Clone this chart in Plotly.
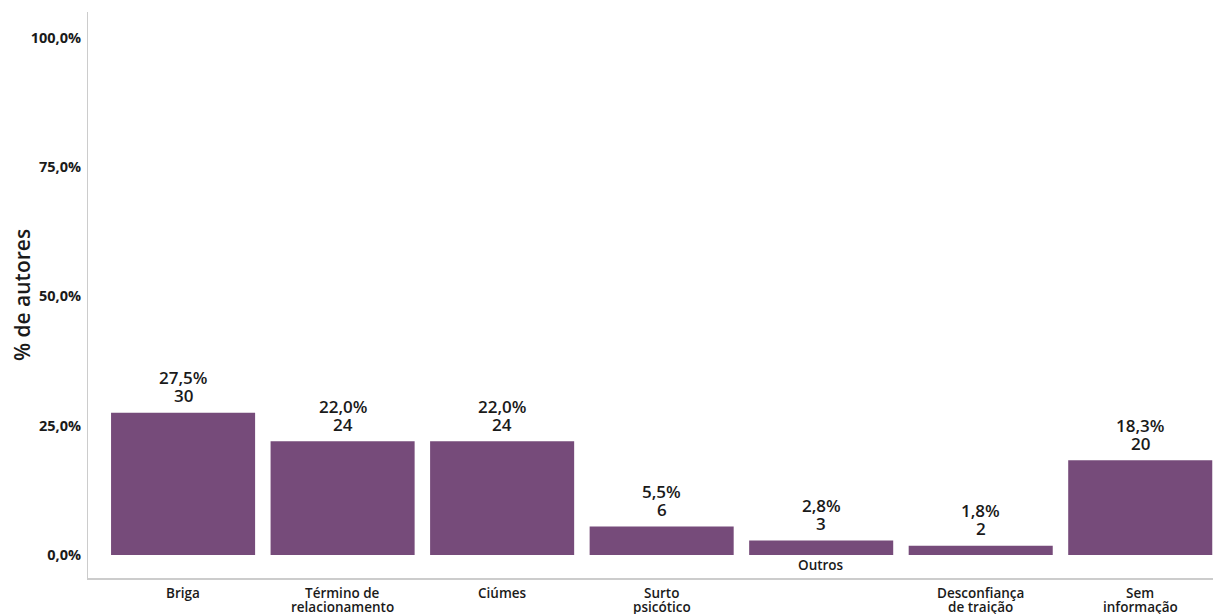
import plotly.graph_objects as go

categories = ["Briga", "Término de<br>relacionamento", "Ciúmes", "Surto<br>psicótico",
              "Outros", "Desconfiança<br>de traição", "Sem<br>informação"]
percentages = [27.5, 22.0, 22.0, 5.5, 2.8, 1.8, 18.3]
counts = [30, 24, 24, 6, 3, 2, 20]
y_tick_values = [0, 25, 50, 75, 100]
y_tick_labels = ["0,0%", "25,0%", "50,0%", "75,0%", "100,0%"]
# categories whose label sits just below the bar (above the axis line)
inner_label = ["Outros"]

FONT = "Open Sans"
BAR_COLOR = "#764B7A"
TEXT_COLOR = "#1a1a1a"

pct_text = [f"{p:.1f}".replace(".", ",") + "%" for p in percentages]
xs = list(range(len(categories)))

fig = go.Figure()
fig.add_trace(go.Bar(
    x=xs, y=percentages,
    marker=dict(color=BAR_COLOR, line=dict(width=0)),
    cliponaxis=False, width=0.903, hoverinfo="skip",
))

lab_font = dict(family=FONT, size=17, color=TEXT_COLOR, weight=600)
cat_font = dict(family=FONT, size=13.5, color=TEXT_COLOR, weight=600)

annotations = []
for i, (p, c, t) in enumerate(zip(percentages, counts, pct_text)):
    annotations.append(dict(x=i, y=p, xref="x", yref="y", text=str(c), showarrow=False,
                            yanchor="middle", yshift=17, font=lab_font, borderpad=0))
    annotations.append(dict(x=i, y=p, xref="x", yref="y", text=t, showarrow=False,
                            yanchor="middle", yshift=35, font=lab_font, borderpad=0))

for i, cat in enumerate(categories):
    if cat in inner_label:
        annotations.append(dict(x=i, y=0, xref="x", yref="y", text=cat, showarrow=False,
                                yanchor="middle", yshift=-10, font=cat_font, borderpad=0))
    else:
        for j, line in enumerate(cat.split("<br>")):
            annotations.append(dict(x=i, y=0, xref="x", yref="paper", text=line, showarrow=False,
                                    yanchor="middle", yshift=-15 - 14 * j, font=cat_font,
                                    borderpad=0))

fig.update_layout(
    width=1221, height=614,
    margin=dict(l=80, r=9, t=4, b=44),
    paper_bgcolor="white", plot_bgcolor="white",
    showlegend=False,
    annotations=annotations,
    xaxis=dict(range=[-0.596, 6.5], showticklabels=False, ticks="", showgrid=False,
               automargin=False,
               zeroline=False, showline=True, linecolor="#cccccc", linewidth=2),
    yaxis=dict(range=[-4.45, 105], tickvals=y_tick_values, ticktext=y_tick_labels,
               automargin=False,
               showgrid=False, zeroline=False, showline=True, linecolor="#cccccc", linewidth=1,
               ticks="", ticklabelstandoff=3,
               tickfont=dict(family=FONT, size=14.5, color=TEXT_COLOR, weight=700),
               title=dict(text="% de autores", standoff=2,
                          font=dict(family=FONT, size=21, color=TEXT_COLOR, weight=600))),
)

fig.write_html("out.html")
